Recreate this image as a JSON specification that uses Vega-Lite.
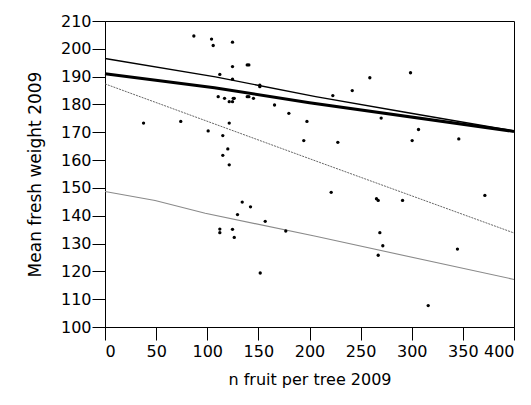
{
  "$schema": "https://vega.github.io/schema/vega-lite/v6.json",
  "autosize": "none",
  "width": 409,
  "height": 306,
  "padding": {"left": 105, "top": 21, "right": 17, "bottom": 78},
  "background": "white",
  "config": {
    "view": {"stroke": "black", "strokeWidth": 1},
    "font": "DejaVu Sans",
    "axis": {
      "grid": false,
      "domainColor": "black",
      "tickColor": "black",
      "labelColor": "black",
      "titleColor": "black",
      "labelFont": "DejaVu Sans",
      "titleFont": "DejaVu Sans",
      "labelFontSize": 16,
      "titleFontSize": 16,
      "titleFontWeight": "normal",
      "tickSize": 13,
      "labelPadding": 1
    }
  },
  "datasets": {
    "pts": [
      {"n": 86.9, "w": 204.6}, {"n": 104.2, "w": 203.5}, {"n": 105.8, "w": 201.2}, {"n": 124.7, "w": 202.4},
      {"n": 124.7, "w": 193.6}, {"n": 139.1, "w": 194.2}, {"n": 140.7, "w": 194.2}, {"n": 112.3, "w": 190.8},
      {"n": 124.7, "w": 189.1}, {"n": 151.4, "w": 186.9}, {"n": 151.4, "w": 186.4}, {"n": 110.7, "w": 182.8},
      {"n": 116.9, "w": 182.2}, {"n": 121.5, "w": 181.0}, {"n": 124.7, "w": 181.0}, {"n": 125.4, "w": 182.2},
      {"n": 126.4, "w": 182.2}, {"n": 139.1, "w": 182.8}, {"n": 140.7, "w": 182.8}, {"n": 145.2, "w": 182.2},
      {"n": 165.8, "w": 179.8}, {"n": 179.8, "w": 176.8}, {"n": 197.5, "w": 173.9}, {"n": 37.7, "w": 173.3},
      {"n": 74.1, "w": 173.9}, {"n": 121.5, "w": 173.3}, {"n": 100.9, "w": 170.5}, {"n": 115.2, "w": 168.8},
      {"n": 194.4, "w": 167.0}, {"n": 120.1, "w": 164.0}, {"n": 115.2, "w": 161.7}, {"n": 121.5, "w": 158.3},
      {"n": 298.8, "w": 191.4}, {"n": 259.0, "w": 189.6}, {"n": 241.8, "w": 185.0}, {"n": 222.8, "w": 183.2},
      {"n": 270.1, "w": 175.1}, {"n": 306.6, "w": 171.0}, {"n": 227.7, "w": 166.4}, {"n": 300.4, "w": 167.0},
      {"n": 346.0, "w": 167.6},
      {"n": 134.2, "w": 144.9}, {"n": 142.3, "w": 143.2}, {"n": 129.6, "w": 140.4}, {"n": 156.7, "w": 138.0},
      {"n": 176.8, "w": 134.5}, {"n": 112.3, "w": 135.2}, {"n": 112.3, "w": 133.9}, {"n": 124.7, "w": 135.1},
      {"n": 126.4, "w": 132.2}, {"n": 151.8, "w": 119.4},
      {"n": 221.2, "w": 148.4}, {"n": 265.5, "w": 146.1}, {"n": 267.2, "w": 145.5}, {"n": 291.0, "w": 145.5},
      {"n": 371.5, "w": 147.3}, {"n": 268.8, "w": 133.9}, {"n": 271.7, "w": 129.2}, {"n": 267.2, "w": 125.8},
      {"n": 344.7, "w": 128.0}, {"n": 316.1, "w": 107.7}
    ],
    "lines": [
      {"s": "upper", "n": 0, "w": 196.5}, {"s": "upper", "n": 108, "w": 189.9}, {"s": "upper", "n": 206, "w": 182.8},
      {"s": "upper", "n": 295, "w": 177.1}, {"s": "upper", "n": 400, "w": 170.5},
      {"s": "fit", "n": 0, "w": 191.0}, {"s": "fit", "n": 107, "w": 186.0}, {"s": "fit", "n": 200, "w": 180.6},
      {"s": "fit", "n": 400, "w": 170.3},
      {"s": "mid", "n": 0, "w": 187.4}, {"s": "mid", "n": 206, "w": 159.7}, {"s": "mid", "n": 400, "w": 133.8},
      {"s": "lower", "n": 0, "w": 148.7}, {"s": "lower", "n": 49, "w": 145.5}, {"s": "lower", "n": 98, "w": 140.9},
      {"s": "lower", "n": 206, "w": 132.6}, {"s": "lower", "n": 400, "w": 117.1}
    ]
  },
  "encoding": {
    "x": {
      "field": "n", "type": "quantitative",
      "scale": {"domain": [0, 400], "nice": false},
      "axis": {"values": [0, 50, 100, 150, 200, 250, 300, 350, 400], "title": "n fruit per tree 2009", "labelPadding": 3, "titlePadding": 12}
    },
    "y": {
      "field": "w", "type": "quantitative",
      "scale": {"domain": [100, 210], "nice": false, "zero": false},
      "axis": {"values": [100, 110, 120, 130, 140, 150, 160, 170, 180, 190, 200, 210], "title": "Mean fresh weight 2009", "titleFontSize": 17, "titlePadding": 16}
    }
  },
  "layer": [
    {
      "data": {"name": "lines"},
      "transform": [{"filter": "datum.s === 'lower'"}],
      "mark": {"type": "line", "color": "#8a8a8a", "strokeWidth": 1.1}
    },
    {
      "data": {"name": "lines"},
      "transform": [{"filter": "datum.s === 'mid'"}],
      "mark": {"type": "line", "color": "#555555", "strokeWidth": 0.9, "strokeDash": [2, 1]}
    },
    {
      "data": {"name": "lines"},
      "transform": [{"filter": "datum.s === 'upper'"}],
      "mark": {"type": "line", "color": "black", "strokeWidth": 1.4}
    },
    {
      "data": {"name": "lines"},
      "transform": [{"filter": "datum.s === 'fit'"}],
      "mark": {"type": "line", "color": "black", "strokeWidth": 3}
    },
    {
      "data": {"name": "pts"},
      "mark": {"type": "circle", "color": "black", "size": 11, "opacity": 1}
    }
  ]
}
